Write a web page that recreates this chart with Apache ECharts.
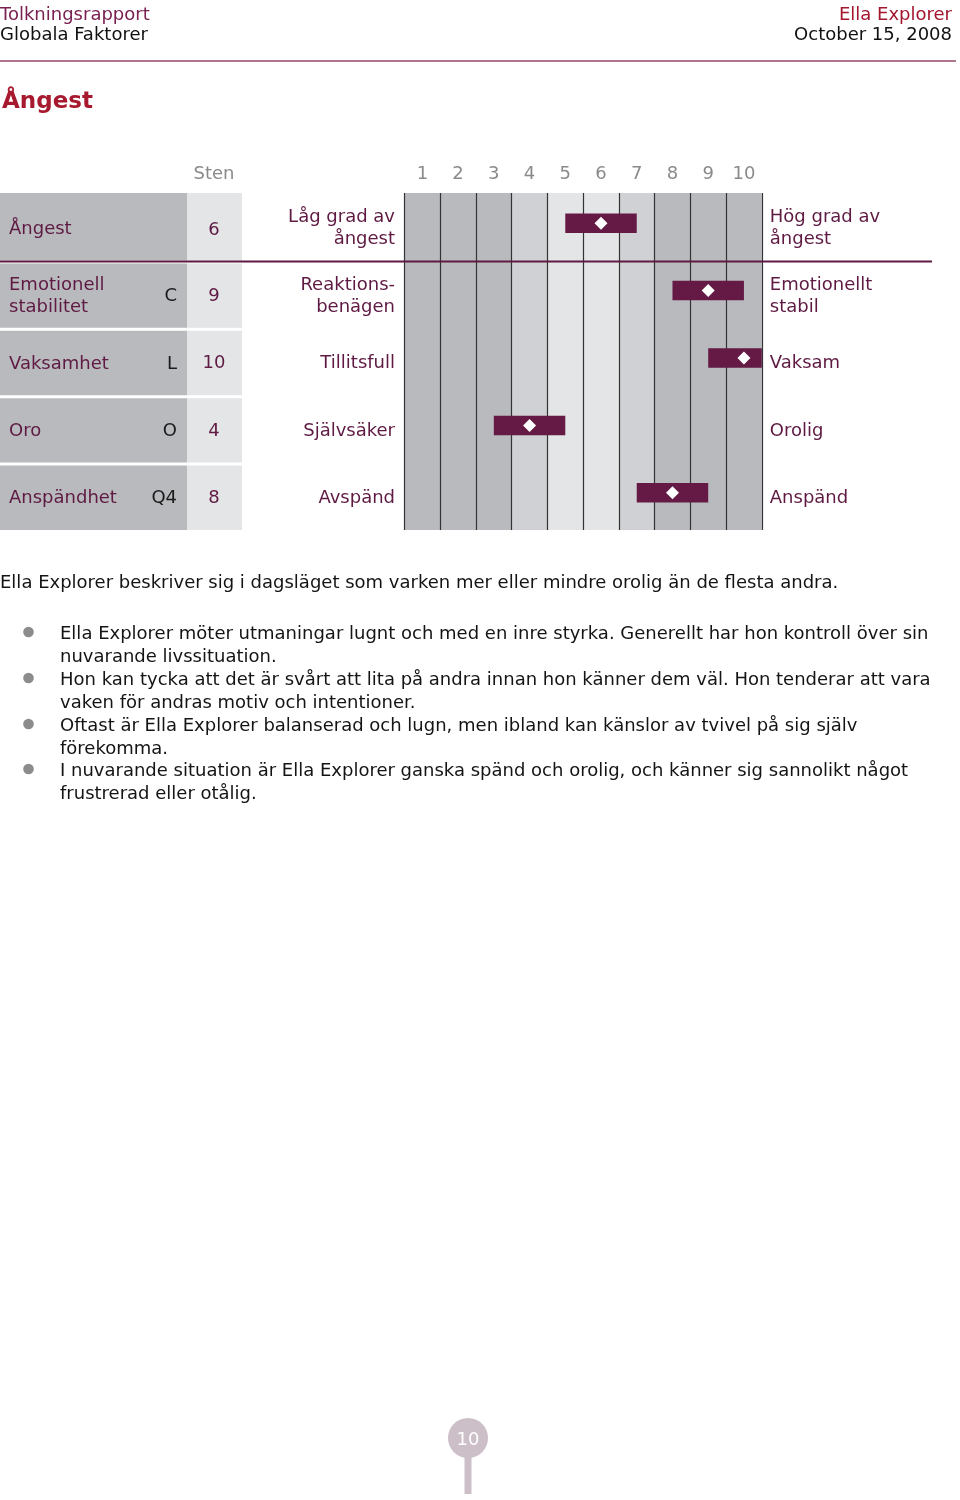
<!DOCTYPE html>
<html>
<head>
<meta charset="utf-8">
<script src="https://cdn.jsdelivr.net/npm/echarts@6/dist/echarts.min.js"></script>
<style>
  html, body { margin: 0; padding: 0; background: #ffffff; }
  #chart { width: 960px; height: 1500px; }
</style>
</head>
<body>
<div id="chart"></div>
<script>
// ---- data ----
const stenTicks = ['1', '2', '3', '4', '5', '6', '7', '8', '9', '10'];
const factorNames = ['Ångest', 'Emotionell\nstabilitet', 'Vaksamhet', 'Oro', 'Anspändhet'];
const factorCodes = ['', 'C', 'L', 'O', 'Q4'];
const stenScores = [6, 9, 10, 4, 8];
const lowPoles = ['Låg grad av\nångest', 'Reaktions-\nbenägen', 'Tillitsfull', 'Självsäker', 'Avspänd'];
const highPoles = ['Hög grad av\nångest', 'Emotionellt\nstabil', 'Vaksam', 'Orolig', 'Anspänd'];
const summaryText = 'Ella Explorer beskriver sig i dagsläget som varken mer eller mindre orolig än de flesta andra.';
const bulletTexts = [
  'Ella Explorer möter utmaningar lugnt och med en inre styrka. Generellt har hon kontroll över sin\nnuvarande livssituation.',
  'Hon kan tycka att det är svårt att lita på andra innan hon känner dem väl. Hon tenderar att vara\nvaken för andras motiv och intentioner.',
  'Oftast är Ella Explorer balanserad och lugn, men ibland kan känslor av tvivel på sig själv\nförekomma.',
  'I nuvarande situation är Ella Explorer ganska spänd och orolig, och känner sig sannolikt något\nfrustrerad eller otålig.'
];
const pageNumber = '10';

// ---- styles ----
const FONT = '"DejaVu Sans", Verdana, sans-serif';
const PURPLE = '#5e1a42';
const BAR = '#641a45';
const DARK = '#b9babe';
const MID = '#d0d1d4';
const LIGHT = '#e4e5e7';
const TY = 2.5; // vertical optical offset for middle-aligned text

function txt(text, x, y, size, color, align, opts) {
  opts = opts || {};
  return {
    type: 'text',
    silent: true,
    style: {
      text: text, x: x, y: y + TY,
      font: (opts.bold ? 'bold ' : '') + size + 'px ' + FONT,
      fill: color,
      align: align, textAlign: align,
      verticalAlign: 'middle', textVerticalAlign: 'middle',
      lineHeight: opts.lineHeight || Math.round(size * 1.3)
    }
  };
}

const chart = echarts.init(document.getElementById('chart'), null, { renderer: 'canvas' });

const graphics = [
  txt('Tolkningsrapport', 0, 13, 18, '#7a2151', 'left'),
  txt('Globala Faktorer', 0, 33, 18, '#111111', 'left'),
  txt('Ella Explorer', 952, 13, 18, '#a3162e', 'right'),
  txt('October 15, 2008', 952, 33, 18, '#111111', 'right'),
  { type: 'line', silent: true, shape: { x1: 0, y1: 61, x2: 956, y2: 61 }, style: { stroke: '#94476a', lineWidth: 1.3 } },
  txt('Ångest', 2, 99.5, 23, '#a6192e', 'left', { bold: true }),
  txt('Sten', 214, 172, 18, '#8a8a8a', 'center'),
  txt(summaryText, 0, 581, 18, '#141414', 'left'),
  // page marker
  { type: 'rect', silent: true, shape: { x: 464.5, y: 1438, width: 7, height: 56 }, style: { fill: '#cdbfc8' } },
  { type: 'circle', silent: true, shape: { cx: 468, cy: 1438, r: 20 }, style: { fill: '#cdbfc8' } },
  txt(pageNumber, 468, 1438, 18, '#ffffff', 'center')
];
const bulletY = [632, 678, 724, 769];
bulletTexts.forEach(function (t, i) {
  graphics.push({ type: 'circle', silent: true, shape: { cx: 28.5, cy: bulletY[i], r: 5.3 }, style: { fill: '#8c8c8c' } });
  graphics.push({
    type: 'text', silent: true,
    style: {
      text: t, x: 60, y: bulletY[i] + TY - 11.4,
      font: '18px ' + FONT, fill: '#141414',
      align: 'left', textAlign: 'left',
      verticalAlign: 'top', textVerticalAlign: 'top',
      lineHeight: 22.8
    }
  });
});

const option = {
  animation: false,
  backgroundColor: '#ffffff',
  grid: { left: 404.5, top: 193, width: 357.3, height: 337, containLabel: false },
  xAxis: {
    type: 'category',
    data: stenTicks,
    position: 'top',
    boundaryGap: true,
    axisLine: { show: false },
    axisTick: { show: false },
    axisLabel: { color: '#8a8a8a', fontSize: 18, fontFamily: FONT, margin: 10, interval: 0 },
    splitLine: { show: true, interval: 0, lineStyle: { color: '#333333', width: 1.2 } },
    splitArea: { show: true, interval: 0, areaStyle: { color: [DARK, DARK, DARK, MID, LIGHT, LIGHT, MID, DARK, DARK, DARK] } }
  },
  yAxis: {
    type: 'category', data: factorNames, inverse: true,
    axisLine: { show: false }, axisTick: { show: false }, splitLine: { show: false },
    axisLabel: { show: false }
  },
  graphic: { elements: graphics },
  series: [
    {
      // left table (factor name, code, sten score) and pole descriptions
      type: 'custom',
      silent: true,
      clip: false,
      z: 1,
      data: factorNames.map(function (n, i) { return [0, i]; }),
      renderItem: function (params, api) {
        const i = api.value(1);
        const c = api.coord([0, i]);
        const cs = params.coordSys;
        const rowH = api.size([0, 1])[1];
        const top = c[1] - rowH / 2 + (i > 0 ? 3 : 0);
        const bottom = c[1] + rowH / 2;
        const children = [
          { type: 'rect', shape: { x: 0, y: top, width: 187, height: bottom - top }, style: { fill: DARK } },
          { type: 'rect', shape: { x: 187, y: top, width: 55, height: bottom - top }, style: { fill: LIGHT } },
          txt(factorNames[i], 9, c[1], 18, PURPLE, 'left', { lineHeight: 22 }),
          txt(factorCodes[i], 177, c[1], 18, '#1a1a1a', 'right'),
          txt(String(stenScores[i]), 214, c[1] + (i === 0 ? 1.5 : -0.3), 18, PURPLE, 'center'),
          txt(lowPoles[i], cs.x - 9.5, c[1] - 0.5, 18, PURPLE, 'right', { lineHeight: 22 }),
          txt(highPoles[i], cs.x + cs.width + 8, c[1] - 0.5, 18, PURPLE, 'left', { lineHeight: 22 })
        ];
        if (i === 0) {
          children.push({ type: 'line', shape: { x1: 0, y1: bottom + 1.2, x2: 932, y2: bottom + 1.2 }, style: { stroke: PURPLE, lineWidth: 2 }, z2: 10 });
        }
        return { type: 'group', children: children };
      }
    },
    {
      // score bars with diamond markers
      type: 'custom',
      silent: true,
      z: 5,
      data: stenScores.map(function (s, i) { return [s - 1, i]; }),
      renderItem: function (params, api) {
        const c = api.coord([api.value(0), api.value(1)]);
        const bw = api.size([1, 0])[0];
        const cs = params.coordSys;
        const cy = c[1] - 3.5;
        const x0 = Math.max(cs.x, c[0] - bw);
        const x1 = Math.min(cs.x + cs.width, c[0] + bw);
        const h = 19.5;
        const d = 6.5;
        return {
          type: 'group',
          children: [
            { type: 'rect', shape: { x: x0, y: cy - h / 2, width: x1 - x0, height: h }, style: { fill: BAR } },
            { type: 'polygon', shape: { points: [[c[0], cy - d], [c[0] + d, cy], [c[0], cy + d], [c[0] - d, cy]] }, style: { fill: '#ffffff' } }
          ]
        };
      }
    }
  ]
};
chart.setOption(option);
</script>
</body>
</html>
